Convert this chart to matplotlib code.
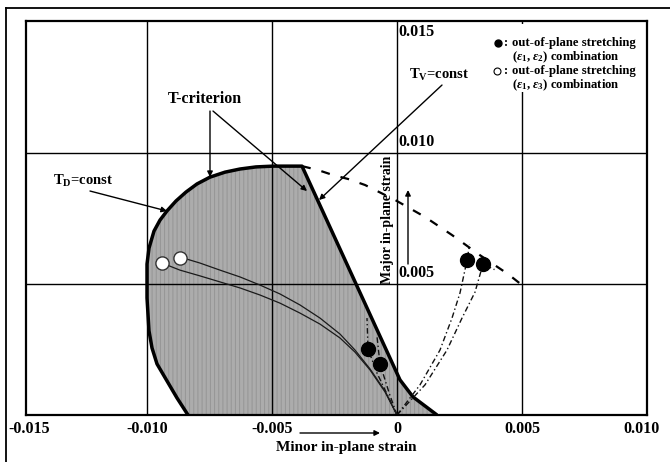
import numpy as np
import matplotlib
matplotlib.use('Agg')
import matplotlib.pyplot as plt
from matplotlib.lines import Line2D
from matplotlib.patches import Rectangle

plt.rcParams['font.family'] = ['Liberation Serif', 'DejaVu Serif']
plt.rcParams['font.weight'] = 'bold'
plt.rcParams['mathtext.fontset'] = 'custom'
plt.rcParams['mathtext.rm'] = 'Liberation Serif:bold'
plt.rcParams['mathtext.it'] = 'Liberation Serif:italic:bold'
plt.rcParams['mathtext.bf'] = 'Liberation Serif:bold'
plt.rcParams['hatch.linewidth'] = 0.7

# ---------------- data ----------------
xtick_values = [-0.015, -0.010, -0.005, 0.0, 0.005, 0.010]
xtick_labels = ['-0.015', '-0.010', '-0.005', '0', '0.005', '0.010']
ytick_values = [0.005, 0.010, 0.015]
ytick_labels = ['0.005', '0.010', '0.015']
grid_x = [-0.010, -0.005, 0.0, 0.005]
grid_y = [0.005, 0.010]

# T-criterion boundary (T_D arc, flat top, T_V line, lower tail)
boundary_x = [-0.00836, -0.0088, -0.0092, -0.0096, -0.0098, -0.00992, -0.0100, -0.0100,
              -0.00992, -0.00972, -0.00948, -0.0092, -0.00884, -0.00844, -0.0080,
              -0.00748, -0.00688, -0.00628, -0.00564, -0.00496, -0.0038,
              0.00012, 0.00064, 0.0016]
boundary_y = [0.0, 0.00065, 0.0013, 0.00195, 0.00256, 0.00321, 0.00447, 0.00576,
              0.00637, 0.00702, 0.00744, 0.00779, 0.00817, 0.00851, 0.00882,
              0.00908, 0.00927, 0.00939, 0.00947, 0.0095, 0.0095,
              0.00134, 0.00069, 0.0]

# T_V = const continuation (dashed)
tv_x = [-0.0038, -0.00316, -0.00256, -0.00196, -0.00128, -0.00008, 0.00112, 0.0022,
        0.00332, 0.00444, 0.005]
tv_y = [0.0095, 0.00935, 0.00916, 0.00901, 0.00878, 0.00821, 0.00756, 0.00687,
        0.0061, 0.00538, 0.00496]

# out-of-plane stretching (eps1, eps2): end points
filled_x = [0.0028, 0.00344, -0.00116, -0.00068]
filled_y = [0.0059, 0.00576, 0.00252, 0.00195]
# out-of-plane stretching (eps1, eps3): end points
open_x = [-0.0094, -0.00868]
open_y = [0.0058, 0.0060]

# strain paths
path1_x = [0.0, 0.00092, 0.00172, 0.0022, 0.00252, 0.0028, 0.0029]
path1_y = [0.0, 0.00115, 0.00248, 0.0037, 0.00466, 0.0059, 0.0065]
path2_x = [0.0, 0.00112, 0.0020, 0.0026, 0.00312, 0.00344, 0.0039]
path2_y = [0.0, 0.00115, 0.00248, 0.0037, 0.00469, 0.00576, 0.00555]
path3_x = [0.0, -0.0004, -0.0008, -0.00116, -0.0012]
path3_y = [0.0, 0.0008, 0.0016, 0.00252, 0.0037]
path4_x = [0.0, -0.0003, -0.00068, -0.0008]
path4_y = [0.0, 0.0008, 0.00195, 0.0030]
pathA_x = [-0.0094, -0.00868, -0.00788, -0.00708, -0.00628, -0.00548, -0.00468,
           -0.00388, -0.00308, -0.00228, -0.00168, -0.00108, -0.00048, 0.0]
pathA_y = [0.0058, 0.00553, 0.00531, 0.00508, 0.00485, 0.00458, 0.00427,
           0.00389, 0.00347, 0.00294, 0.0024, 0.00172, 0.00088, 0.0]
pathB_x = [-0.00868, -0.00788, -0.00708, -0.00628, -0.00548, -0.00468, -0.00388,
           -0.00308, -0.00228, -0.00168, -0.00108, -0.00048, 0.0]
pathB_y = [0.00603, 0.0058, 0.00553, 0.00527, 0.00496, 0.00462, 0.0042,
           0.0037, 0.00309, 0.00248, 0.00176, 0.00092, 0.0]

# ---------------- figure ----------------
W, H = 670, 462
fig = plt.figure(figsize=(W / 100, H / 100), dpi=100)
ax = fig.add_axes([26 / W, 1 - 415 / H, (647 - 26) / W, (415 - 21) / H])
ax.set_xlim(-0.01484, 0.010)
ax.set_ylim(0.0, 0.01504)
ax.set_xticks([])
ax.set_yticks([])
for s in ax.spines.values():
    s.set_linewidth(1.6)
    s.set_zorder(8)


def X(px):
    return -0.010 + (px - 147) / 25000.0


def Y(py):
    return (415 - py) / 26200.0


# shaded region
ax.fill(boundary_x, boundary_y, facecolor='#acacac', edgecolor='#959595',
        hatch='||||', linewidth=0, zorder=1)

# grid
for g in grid_x:
    ax.axvline(g, color='black', lw=1.0, zorder=2)
for g in grid_y:
    ax.axhline(g, color='black', lw=1.0, zorder=2)

# boundary
ax.plot(boundary_x, boundary_y, color='black', lw=2.5, zorder=4,
        solid_joinstyle='round', solid_capstyle='butt')
ax.plot(tv_x, tv_y, color='black', lw=1.6, dashes=(4, 5), zorder=4)

# strain paths
for px_, py_ in [(path1_x, path1_y), (path2_x, path2_y), (path3_x, path3_y), (path4_x, path4_y)]:
    ax.plot(px_, py_, color='#111111', lw=1.0, dashes=(4, 2, 1, 2), zorder=5)
for px_, py_ in [(pathA_x, pathA_y), (pathB_x, pathB_y)]:
    ax.plot(px_, py_, color='#1a1a1a', lw=0.9, zorder=5, solid_joinstyle='round')

ax.plot(filled_x, filled_y, 'o', ms=10, color='black', zorder=6)
ax.plot(open_x, open_y, 'o', ms=9.5, mfc='white', mec='#333333', mew=1.0, zorder=6)

# legend
ax.add_patch(Rectangle((X(490), Y(92)), X(645) - X(490), Y(24) - Y(92),
                       facecolor='white', edgecolor='none', zorder=3))
ax.plot([X(498)], [Y(43)], 'o', ms=5, color='black', zorder=7)
ax.plot([X(497)], [Y(71)], 'o', ms=5, mfc='white', mec='black', mew=0.8, zorder=7)
lg = dict(fontsize=9.2, fontweight='bold', va='center', ha='left', zorder=7)
ax.text(X(504), Y(43), ':', **lg)
ax.text(X(504), Y(71), ':', **lg)
ax.text(X(512), Y(43), 'out-of-plane stretching', **lg)
ax.text(X(512), Y(57), r'($\varepsilon_1$, $\varepsilon_2$) combination', **lg)
ax.text(X(512), Y(71), 'out-of-plane stretching', **lg)
ax.text(X(512), Y(85), r'($\varepsilon_1$, $\varepsilon_3$) combination', **lg)

# annotations
arw = dict(arrowstyle='-|>', lw=1.0, color='black', mutation_scale=8, shrinkA=0, shrinkB=0)
ax.text(X(205), Y(99), 'T-criterion', fontsize=11.5, fontweight='bold', ha='center', va='center')
ax.annotate('', xy=(X(210), Y(177)), xytext=(X(210), Y(111)), arrowprops=arw)
ax.annotate('', xy=(X(307), Y(191)), xytext=(X(213), Y(111)), arrowprops=arw)
ax.text(X(53), Y(181), r'T$_\mathrm{D}$=const', fontsize=10.5, fontweight='bold', ha='left', va='center')
ax.annotate('', xy=(X(167), Y(211)), xytext=(X(90), Y(191)), arrowprops=arw)
ax.text(X(409), Y(75), r'T$_\mathrm{V}$=const', fontsize=10.5, fontweight='bold', ha='left', va='center')
ax.annotate('', xy=(X(319), Y(200)), xytext=(X(442), Y(85)), arrowprops=arw)

# axis labels
ax.text(X(346), Y(448), 'Minor in-plane strain', fontsize=11, fontweight='bold',
        ha='center', va='center', clip_on=False)
ax.annotate('', xy=(X(380), Y(433)), xytext=(X(300), Y(433)), arrowprops=arw,
            annotation_clip=False)
ax.text(X(387), Y(220), 'Major in-plane strain', fontsize=10, fontweight='bold',
        ha='center', va='center', rotation=90)
ax.annotate('', xy=(X(408), Y(190)), xytext=(X(408), Y(264)), arrowprops=arw)

# tick labels
for v, lab in zip(xtick_values, xtick_labels):
    xv = min(max(v, X(29)), X(641))
    ax.text(xv, Y(429), lab, fontsize=11.5, fontweight='bold', ha='center', va='center',
            clip_on=False)
for v, lab in zip(ytick_values, ytick_labels):
    yv = min(v + 0.0001, Y(32))
    ax.text(X(398), yv, lab, fontsize=11.5, fontweight='bold', ha='left',
            va='bottom' if v < 0.015 else 'center', zorder=7)

# outer frame
fig.add_artist(Line2D([6 / W, 6 / W], [0, 1 - 8 / H], color='black', lw=1.3))
fig.add_artist(Line2D([6 / W, 1], [1 - 8 / H, 1 - 8 / H], color='black', lw=1.3))

fig.savefig('out.png', dpi=100)
